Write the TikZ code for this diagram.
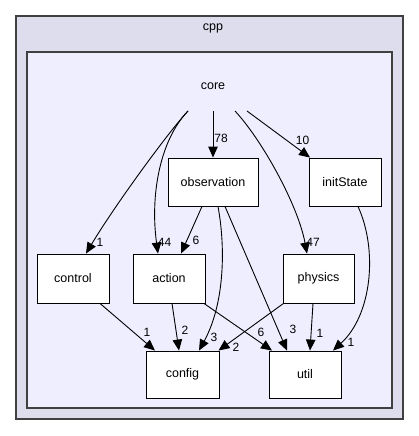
\documentclass[tikz,border=0pt]{standalone}
\usepackage{fontspec}
\setmainfont{Liberation Sans}
\usetikzlibrary{arrows.meta}
\definecolor{outerfill}{HTML}{DDDDEE}
\definecolor{innerfill}{HTML}{EEEEFF}
\definecolor{frame}{HTML}{404040}
\tikzset{
  dirbox/.style={draw=black, fill=white, line width=0.9pt, minimum width=72pt, minimum height=48pt, inner sep=0pt, font=\fontsize{12.5}{14}\selectfont},
  dep/.style={line width=0.9pt, -{Triangle[length=11pt,width=9.5pt]}},
  cnt/.style={font=\fontsize{12}{13}\selectfont, inner sep=0pt},
  clabel/.style={font=\fontsize{12.5}{14}\selectfont, inner sep=0pt}
}
\begin{document}
\begin{tikzpicture}[x=1pt,y=-1pt]
\useasboundingbox (0,0) rectangle (419,436);
% clusters
\draw[frame, fill=outerfill, line width=1.3pt] (16,16) rectangle (403,419);
\draw[frame, fill=innerfill, line width=1.3pt] (27,52) rectangle (392,408);
\node[clabel] (cpp) at (213,28.5) {cpp};
\node[clabel] (core) at (213,86) {core};
% nodes
\node[dirbox, minimum width=90pt] (obs) at (213,182) {observation};
\node[dirbox] (init) at (345,182) {initState};
\node[dirbox, minimum height=49pt] (control) at (73,278.5) {control};
\node[dirbox, minimum height=49pt] (action) at (169,278.5) {action};
\node[dirbox, minimum width=71pt, minimum height=49pt] (physics) at (318.5,278.5) {physics};
\node[dirbox, minimum width=73pt, minimum height=47pt] (config) at (182.5,374.5) {config};
\node[dirbox, minimum height=47pt] (util) at (305,374.5) {util};
% edges from core
\draw[dep] ([xshift=-25pt,yshift=-25pt]core.center) .. controls (170,130) and (115,205) .. ([xshift=13pt]control.north);
\draw[dep] ([xshift=-25pt,yshift=-25pt]core.center) .. controls (160,140) and (150,195) .. ([xshift=-11pt]action.north);
\draw[dep] ([yshift=-25pt]core.center) -- (obs.north);
\draw[dep] ([xshift=22pt,yshift=-25pt]core.center) .. controls (262,140) and (298,205) .. ([xshift=-11.5pt]physics.north);
\draw[dep] ([xshift=34pt,yshift=-25pt]core.center) -- ([xshift=-35pt]init.north);
% other edges
\draw[dep] ([xshift=-11pt]obs.south) -- ([xshift=12pt]action.north);
\draw[dep] ([xshift=5pt]obs.south) .. controls (226,250) and (224,305) .. ([xshift=16.5pt]config.north);
\draw[dep] ([xshift=12pt]obs.south) -- ([xshift=-18pt]util.north);
\draw[dep] ([xshift=13pt]init.south) .. controls (378,250) and (372,315) .. ([xshift=28pt]util.north);
\draw[dep] ([xshift=27pt]control.south) -- ([xshift=-27.5pt]config.north);
\draw[dep] ([xshift=3pt]action.south) -- ([xshift=-3.5pt]config.north);
\draw[dep] ([xshift=35pt]action.south) -- ([xshift=-33pt]util.north);
\draw[dep] ([xshift=-35pt]physics.south) -- ([xshift=36pt]config.north);
\draw[dep] ([xshift=-5.5pt]physics.south) -- ([xshift=5pt]util.north);
% counts
\node[cnt] (n1) at (100,242) {1};
\node[cnt] (n2) at (164.5,242) {44};
\node[cnt] (n3) at (221,138) {78};
\node[cnt] (n4) at (302.5,140) {10};
\node[cnt] (n5) at (313,242) {47};
\node[cnt] (n6) at (196,240) {6};
\node[cnt] (n7) at (214,337) {3};
\node[cnt] (n8) at (293,329) {3};
\node[cnt] (n9) at (351,342) {1};
\node[cnt] (n10) at (147,332) {1};
\node[cnt] (n11) at (185,330) {2};
\node[cnt] (n12) at (261,332) {6};
\node[cnt] (n13) at (236,347) {2};
\node[cnt] (n14) at (320,333) {1};
\end{tikzpicture}
\end{document}
